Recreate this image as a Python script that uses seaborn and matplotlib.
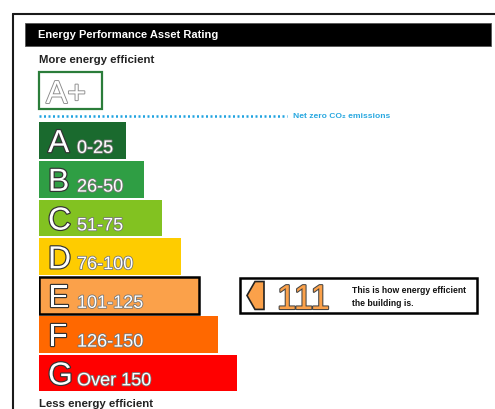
import matplotlib.pyplot as plt
import matplotlib.patheffects as pe
import seaborn as sns
from matplotlib.patches import Rectangle, Polygon

# ── data ─────────────────────────────────────────────
bands = ['A', 'B', 'C', 'D', 'E', 'F', 'G']
ranges = ['0-25', '26-50', '51-75', '76-100', '101-125', '126-150', 'Over 150']
band_colors = ['#1a6a2e', '#2f9e44', '#82c221', '#fecc00', '#fba14a', '#ff6800', '#ff0000']
bar_len = [87, 105, 123, 142, 160, 179, 198]   # relative bar lengths
rating = 111
current_band = 'E'

sns.set_style('white')
plt.rcParams['font.family'] = ['Liberation Sans', 'DejaVu Sans']

W, H = 495, 410
fig = plt.figure(figsize=(W / 100, H / 100), dpi=100)

# page axes in pixel units
ax = fig.add_axes([0, 0, 1, 1])
ax.set_xlim(0, W)
ax.set_ylim(H, 0)
ax.axis('off')

# outer frame
ax.plot([12.5, 12.5], [H, 15], color='#1a1a1a', lw=1.5)
ax.plot([12.5, W], [15, 15], color='#1a1a1a', lw=1.5)

# header
ax.add_patch(Rectangle((25, 24), 466, 22.5, facecolor='black', edgecolor='#555', lw=0.6))
ax.text(38, 35.5, 'Energy Performance Asset Rating', color='white', fontsize=8,
        fontweight='bold', va='center', ha='left')

ax.text(39, 60, 'More energy efficient', color='#222', fontsize=8.2,
        fontweight='bold', va='center', ha='left')
ax.text(39, 404, 'Less energy efficient', color='#222', fontsize=8.2,
        fontweight='bold', va='center', ha='left')

# A+ box
ax.add_patch(Rectangle((39, 73), 63, 37, facecolor='white', edgecolor='#2b7d3a', lw=1.6))
ax.text(46, 104, 'A+', color='white', fontsize=23, va='baseline', ha='left',
        path_effects=[pe.withStroke(linewidth=1.3, foreground='#8a8a8a')])

# net zero line
ax.plot([39, 287], [117, 117], color='#1fa2e0', lw=1.8, linestyle=(0, (0.8, 1.0)))
ax.text(293, 117, 'Net zero CO₂ emissions', color='#29a8e0', fontsize=6.1,
        fontweight='bold', va='center', ha='left')

# ── rating bars ──────────────────────────────────────
pitch = 38.75
top = 122.1
bax = fig.add_axes([39 / W, 1 - (top + 7 * pitch) / H, 451 / W, 7 * pitch / H])
sns.barplot(x=bar_len, y=bands, hue=bands, palette=band_colors, orient='h',
            width=0.95, saturation=1, legend=False, linewidth=0, ax=bax)
bax.set_xlim(0, 451)
bax.set_ylim(6.5, -0.5)
bax.axis('off')
bax.patch.set_alpha(0)

cur = bands.index(current_band)
bax.patches[cur].set_edgecolor('black')
bax.patches[cur].set_linewidth(1.8)

for i, (b, r) in enumerate(zip(bands, ranges)):
    bax.text(9, i + 0.30, b, color='white', fontsize=23, va='baseline', ha='left',
             path_effects=[pe.withStroke(linewidth=1.7, foreground='#333')])
    bax.text(38, i + 0.32, r, color='white', fontsize=13, va='baseline', ha='left',
             path_effects=[pe.withStroke(linewidth=1.2, foreground='#777')])

# indicator for current rating
bax.add_patch(Rectangle((201, cur - 0.46), 237, 0.92, facecolor='white',
                        edgecolor='black', lw=1.8))
arrow = [(225, cur - 0.36), (216, cur - 0.36), (208, cur),
         (216, cur + 0.36), (225, cur + 0.36)]
bax.add_patch(Polygon(arrow, closed=True, facecolor=band_colors[cur],
                      edgecolor='#222', lw=1.2))
bax.text(238, cur + 0.35, str(rating), color=band_colors[cur], fontsize=25,
         va='baseline', ha='left',
         path_effects=[pe.withStroke(linewidth=1.5, foreground='#444')])
bax.text(313, cur - 0.15, 'This is how energy efficient', color='#111',
         fontsize=6.2, fontweight='bold', va='center', ha='left')
bax.text(313, cur + 0.175, 'the building is.', color='#111',
         fontsize=6.2, fontweight='bold', va='center', ha='left')

fig.savefig('out.png', dpi=100)
